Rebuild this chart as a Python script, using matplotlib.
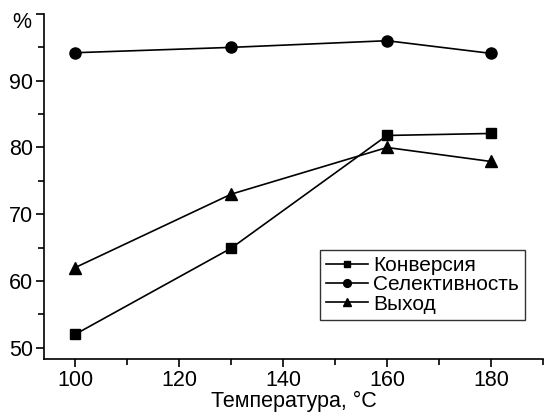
import matplotlib
matplotlib.use("Agg")
import matplotlib.pyplot as plt
from matplotlib.ticker import MultipleLocator

plt.rcParams['font.family'] = ['Liberation Sans', 'DejaVu Sans']

temps = [100, 130, 160, 180]
conversion = [52.0, 64.9, 81.8, 82.1]
selectivity = [94.2, 95.0, 96.0, 94.1]
yield_ = [62.0, 73.0, 80.0, 77.9]
labels = ['Конверсия', 'Селективность', 'Выход']

fs = 15.5
fig = plt.figure(figsize=(5.45, 4.16), dpi=100)
ax = fig.add_axes([0.0807, 0.137, 0.9156, 0.8293])

ax.plot(temps, conversion, '-s', color='black', lw=1.2, ms=7, label=labels[0])
ax.plot(temps, selectivity, '-o', color='black', lw=1.2, ms=8, label=labels[1])
ax.plot(temps, yield_, '-^', color='black', lw=1.2, ms=8.5, label=labels[2])

ax.set_xlim(94, 190)
ax.set_ylim(48.3, 100)
ax.xaxis.set_major_locator(MultipleLocator(20))
ax.xaxis.set_minor_locator(MultipleLocator(10))
ax.set_yticks([50, 60, 70, 80, 90, 100])
ax.set_yticklabels(['50', '60', '70', '80', '90', ''])
ax.yaxis.set_minor_locator(MultipleLocator(5))
for s in ['top', 'right']:
    ax.spines[s].set_visible(False)
for s in ['left', 'bottom']:
    ax.spines[s].set_linewidth(1.2)
ax.tick_params(which='major', direction='out', length=6, width=1.2, labelsize=fs, pad=2)
ax.tick_params(which='minor', direction='out', length=4, width=1.2)
ax.set_xlabel('Температура, °C', fontsize=fs, labelpad=0)
fig.text(22 / 545, 1 - 22 / 416, '%', fontsize=fs, ha='center', va='center')

leg = ax.legend(loc='lower right', bbox_to_anchor=(0.964, 0.113), fontsize=15,
                frameon=True, fancybox=False, edgecolor='black', handlelength=2.0,
                handletextpad=0.25, borderpad=0.3, labelspacing=0.02, markerscale=0.7,
                borderaxespad=0)
leg.get_frame().set_linewidth(1.0)

fig.savefig('out.png', dpi=100)
